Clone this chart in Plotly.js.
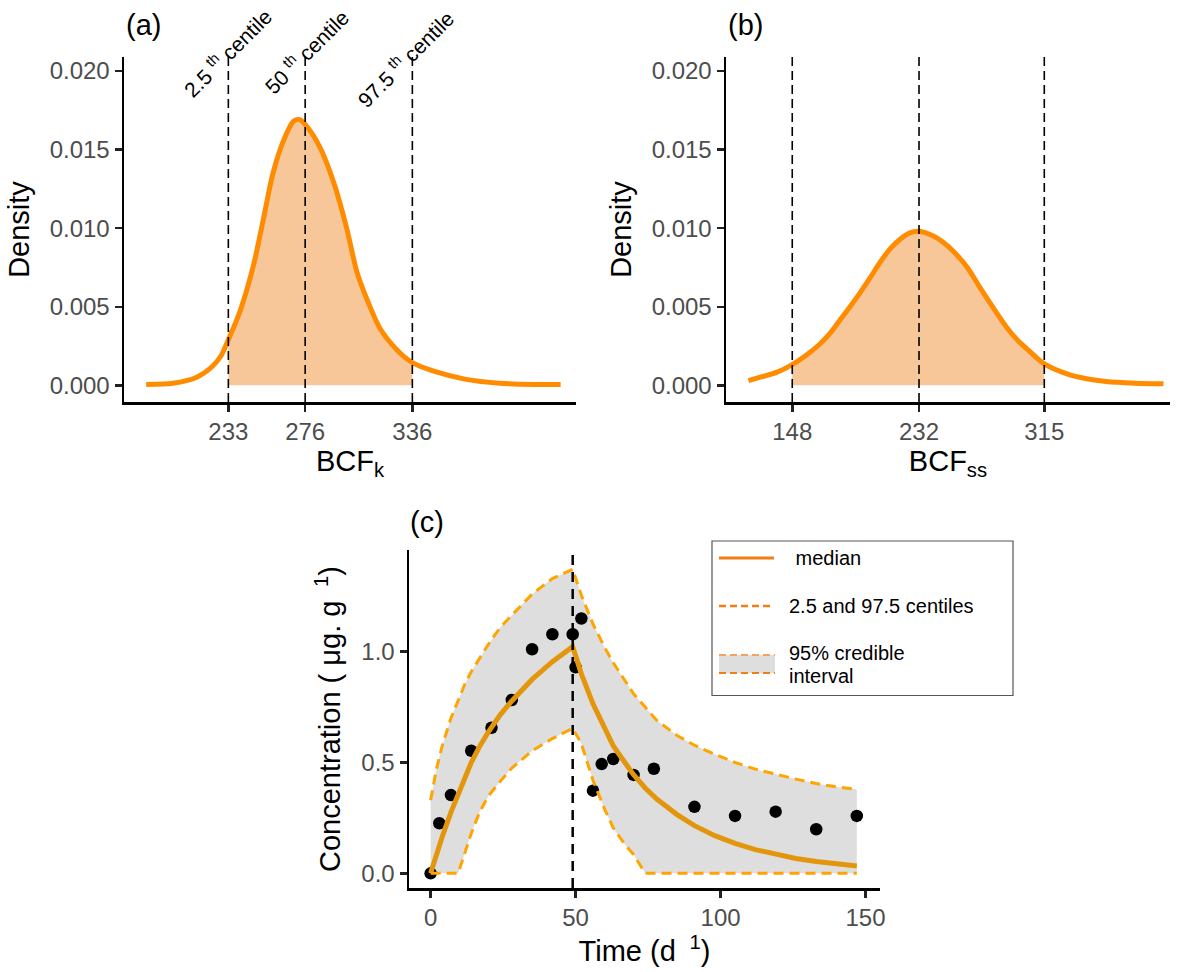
<!DOCTYPE html>
<html>
<head>
<meta charset="utf-8">
<script src="https://cdn.plot.ly/plotly-3.0.1.min.js"></script>
<style>html,body{margin:0;padding:0;background:#fff;}#chart{width:1179px;height:972px;}</style>
</head>
<body>
<div id="chart"></div>
<script>
// ---------- Panel (a): posterior density of BCFk ----------
const bcfkX = [187, 202, 215, 224, 229, 233, 239.5, 247, 252.5, 258, 264, 269.5, 273, 276, 284, 292, 299, 305, 310.5, 318, 327, 336, 348, 366, 385, 404, 419];
const bcfkY = [0.00005, 0.00013, 0.0005, 0.0012, 0.0019, 0.0029, 0.0047, 0.0076, 0.0105, 0.0135, 0.0156, 0.0168, 0.0169, 0.0166, 0.0152, 0.0129, 0.0101, 0.0072, 0.0055, 0.0036, 0.0023, 0.00144, 0.0009, 0.00038, 0.00013, 0.00005, 0.00005];
const centK = [233, 276, 336];
const centLabels = ['2.5', '50', '97.5'];

// ---------- Panel (b): posterior density of BCFss ----------
const bcfssX = [119, 128, 138, 148, 157, 166, 173, 180, 187, 193, 200, 206, 213, 219.5, 226, 232, 241.5, 248, 255, 264, 272.5, 283.5, 290, 297, 306, 315, 330, 343, 356, 375, 394];
const bcfssY = [0.0003, 0.00055, 0.00084, 0.00132, 0.0019, 0.0026, 0.0033, 0.0042, 0.0051, 0.0059, 0.0069, 0.0078, 0.0087, 0.0093, 0.0097, 0.0098, 0.0095, 0.0091, 0.0085, 0.0075, 0.0062, 0.0046, 0.0037, 0.0029, 0.0021, 0.00136, 0.00073, 0.00042, 0.00024, 0.00014, 0.0001];
const centSS = [148, 232, 315];

const densTicks = [0, 0.005, 0.010, 0.015, 0.020];

// ---------- Panel (c): toxicokinetic fit ----------
const obsTime = [0, 3, 7, 14, 21, 28, 35, 42, 49, 50, 52, 56, 59, 63, 70, 77, 91, 105, 119, 133, 147];
const obsConc = [0, 0.226, 0.353, 0.553, 0.657, 0.782, 1.011, 1.079, 1.079, 0.93, 1.15, 0.373, 0.493, 0.516, 0.444, 0.472, 0.30, 0.259, 0.278, 0.199, 0.259];

const predTime   = [0, 2, 4, 7, 9.5, 12, 14, 17, 20, 24, 28, 35, 42, 49, 52, 56, 60, 63, 67, 70, 74, 78, 85, 91, 98, 105, 112, 119, 126, 133, 140, 147];
const predMedian = [0, 0.085, 0.165, 0.275, 0.36, 0.44, 0.50, 0.575, 0.64, 0.715, 0.778, 0.875, 0.955, 1.023, 0.90, 0.765, 0.65, 0.575, 0.50, 0.445, 0.385, 0.335, 0.265, 0.215, 0.17, 0.135, 0.107, 0.085, 0.067, 0.053, 0.042, 0.033];
const predUpper  = [0.33, 0.47, 0.575, 0.70, 0.78, 0.86, 0.91, 0.975, 1.035, 1.11, 1.165, 1.26, 1.33, 1.372, 1.255, 1.125, 1.02, 0.95, 0.87, 0.81, 0.75, 0.69, 0.622, 0.578, 0.537, 0.50, 0.47, 0.447, 0.425, 0.405, 0.39, 0.379];
const predLower  = [0, 0, 0, 0, 0, 0.10, 0.18, 0.28, 0.35, 0.415, 0.475, 0.553, 0.608, 0.654, 0.585, 0.42, 0.29, 0.205, 0.13, 0.085, 0, 0, 0, 0, 0, 0, 0, 0, 0, 0, 0, 0];
const switchTime = [49];
const concTicks = [0, 0.5, 1.0];
const timeTicks = [0, 50, 100, 150];

// ---------- styles ----------
const FONT = 'Liberation Sans, Arial, Helvetica, sans-serif';
const DENS_LINE = '#FF8C00';
const DENS_FILL = '#F8C799';
const MED_COL = '#E3960C';
const CI_COL = '#FFA500';
const BAND_COL = '#DEDEDE';

function between(xs, ys, lo, hi) {
  const ox = [], oy = [];
  xs.forEach((v, i) => { if (v >= lo && v <= hi) { ox.push(v); oy.push(ys[i]); } });
  return {x: ox, y: oy};
}
const fillK = between(bcfkX, bcfkY, centK[0], centK[2]);
const fillSS = between(bcfssX, bcfssY, centSS[0], centSS[2]);

const traces = [
  {x: fillK.x, y: fillK.y, xaxis: 'x', yaxis: 'y', type: 'scatter', mode: 'lines', fill: 'tozeroy',
   fillcolor: DENS_FILL, line: {width: 0, shape: 'spline', smoothing: 0.8}, hoverinfo: 'skip', showlegend: false},
  {x: bcfkX, y: bcfkY, xaxis: 'x', yaxis: 'y', type: 'scatter', mode: 'lines',
   line: {color: DENS_LINE, width: 5, shape: 'spline', smoothing: 0.8}, showlegend: false},
  {x: fillSS.x, y: fillSS.y, xaxis: 'x2', yaxis: 'y2', type: 'scatter', mode: 'lines', fill: 'tozeroy',
   fillcolor: DENS_FILL, line: {width: 0, shape: 'spline', smoothing: 0.8}, hoverinfo: 'skip', showlegend: false},
  {x: bcfssX, y: bcfssY, xaxis: 'x2', yaxis: 'y2', type: 'scatter', mode: 'lines',
   line: {color: DENS_LINE, width: 5, shape: 'spline', smoothing: 0.8}, showlegend: false},
  // credible band polygon
  {x: predTime.concat(predTime.slice().reverse()), y: predUpper.concat(predLower.slice().reverse()),
   xaxis: 'x3', yaxis: 'y3', type: 'scatter', mode: 'lines', fill: 'toself', fillcolor: BAND_COL,
   line: {width: 0}, hoverinfo: 'skip', showlegend: false},
  {x: obsTime, y: obsConc, xaxis: 'x3', yaxis: 'y3', type: 'scatter', mode: 'markers',
   marker: {color: '#000', size: 12.5}, showlegend: false},
  {x: predTime, y: predMedian, xaxis: 'x3', yaxis: 'y3', type: 'scatter', mode: 'lines',
   line: {color: MED_COL, width: 5}, showlegend: false},
  {x: predTime, y: predLower, xaxis: 'x3', yaxis: 'y3', type: 'scatter', mode: 'lines',
   line: {color: CI_COL, width: 3, dash: '10px,6px'}, showlegend: false},
  {x: predTime, y: predUpper, xaxis: 'x3', yaxis: 'y3', type: 'scatter', mode: 'lines',
   line: {color: CI_COL, width: 3, dash: '10px,6px'}, showlegend: false}
];

const W = 1179, H = 972;
const px = v => v / W;
const py = v => 1 - v / H;

const axisBase = {
  showline: true, linecolor: '#000', linewidth: 2.5, mirror: false,
  ticks: 'outside', ticklen: 7, tickwidth: 2.5, tickcolor: '#222',
  showgrid: false, zeroline: false, fixedrange: true,
  tickfont: {family: FONT, size: 24, color: '#4D4D4D'}
};
function ax(extra) { return Object.assign({}, axisBase, extra); }

const layout = {
  width: W, height: H,
  margin: {l: 0, r: 0, t: 0, b: 0},
  paper_bgcolor: '#fff', plot_bgcolor: 'rgba(0,0,0,0)',
  font: {family: FONT, color: '#000'},
  showlegend: false,
  xaxis: ax({domain: [px(124), px(576)], range: [174.6, 427.6], anchor: 'y',
    tickmode: 'array', tickvals: centK, ticktext: centK.map(String),
    title: {text: 'BCF<sub>k</sub>', font: {size: 29, color: '#000'}, standoff: 4}}),
  yaxis: ax({domain: [py(402), py(57)], range: [-0.00106, 0.02089], anchor: 'x',
    tickmode: 'array', tickvals: densTicks, ticktext: densTicks.map(v => v.toFixed(3)),
    title: {text: 'Density', font: {size: 29, color: '#000'}, standoff: 12}}),
  xaxis2: ax({domain: [px(726), px(1170)], range: [104.1, 398.3], anchor: 'y2',
    tickmode: 'array', tickvals: centSS, ticktext: centSS.map(String),
    title: {text: 'BCF<sub>ss</sub>', font: {size: 29, color: '#000'}, standoff: 4}}),
  yaxis2: ax({domain: [py(402), py(57)], range: [-0.00106, 0.02089], anchor: 'x2',
    tickmode: 'array', tickvals: densTicks, ticktext: densTicks.map(v => v.toFixed(3)),
    title: {text: 'Density', font: {size: 29, color: '#000'}, standoff: 12}}),
  xaxis3: ax({domain: [px(409), px(880)], range: [-7.46, 155.0], anchor: 'y3',
    tickmode: 'array', tickvals: timeTicks, ticktext: timeTicks.map(String),
    title: {text: 'Time (d\u00A0<sup>\u00A01</sup>)', font: {size: 29, color: '#000'}, standoff: 6}}),
  yaxis3: ax({domain: [py(888), py(550)], range: [-0.0663, 1.459], anchor: 'x3',
    tickmode: 'array', tickvals: concTicks, ticktext: concTicks.map(v => v.toFixed(1)),
    title: {text: 'Concentration ( \u03BCg. g\u00A0<sup>\u00A01</sup>)', font: {size: 29, color: '#000'}, standoff: 12}}),
  shapes: [],
  annotations: []
};

centK.forEach(v => layout.shapes.push({type: 'line', xref: 'x', yref: 'y domain', x0: v, x1: v, y0: 0, y1: 1,
  layer: 'above', line: {color: '#000', width: 1.6, dash: '9px,5px'}}));
centSS.forEach(v => layout.shapes.push({type: 'line', xref: 'x2', yref: 'y2 domain', x0: v, x1: v, y0: 0, y1: 1,
  layer: 'above', line: {color: '#000', width: 1.6, dash: '9px,5px'}}));
switchTime.forEach(v => layout.shapes.push({type: 'line', xref: 'x3', yref: 'y3 domain', x0: v, x1: v, y0: 0, y1: 1,
  layer: 'above', line: {color: '#000', width: 2.5, dash: '10px,7px'}}));

// centile labels (rotated)
const cShift = [[-1, 5], [1, 6], [-7, -1]];
centK.forEach((v, i) => layout.annotations.push({
  xref: 'x', yref: 'y domain', x: v, y: 1, xanchor: 'center', yanchor: 'middle',
  xshift: cShift[i][0], yshift: cShift[i][1], textangle: -45, showarrow: false,
  text: centLabels[i] + ' <sup>th</sup> centile', font: {size: 21, color: '#000'}
}));

// panel labels
[['(a)', 143, 25], ['(b)', 745, 25], ['(c)', 427, 522]].forEach(p => layout.annotations.push({
  xref: 'paper', yref: 'paper', x: px(p[1]), y: py(p[2]), xanchor: 'center', yanchor: 'middle',
  showarrow: false, text: p[0], font: {size: 29, color: '#000'}
}));

// legend box for panel (c)
const LEG_COL = '#F07F16';
const LEG_COL2 = '#F4A25C';
layout.shapes.push({type: 'rect', xref: 'paper', yref: 'paper', x0: px(712), x1: px(1013), y0: py(695.5), y1: py(541),
  line: {color: '#555', width: 1.2}, fillcolor: '#fff', layer: 'above'});
layout.shapes.push({type: 'line', xref: 'paper', yref: 'paper', x0: px(719), x1: px(774), y0: py(558), y1: py(558),
  line: {color: LEG_COL, width: 3}, layer: 'above'});
layout.shapes.push({type: 'line', xref: 'paper', yref: 'paper', x0: px(719), x1: px(774), y0: py(606), y1: py(606),
  line: {color: LEG_COL, width: 2.5, dash: '7px,4px'}, layer: 'above'});
layout.shapes.push({type: 'rect', xref: 'paper', yref: 'paper', x0: px(719), x1: px(775), y0: py(673), y1: py(655),
  line: {width: 0}, fillcolor: BAND_COL, layer: 'above'});
layout.shapes.push({type: 'line', xref: 'paper', yref: 'paper', x0: px(719), x1: px(775), y0: py(655), y1: py(655),
  line: {color: LEG_COL2, width: 1.8, dash: '7px,4px'}, layer: 'above'});
layout.shapes.push({type: 'line', xref: 'paper', yref: 'paper', x0: px(719), x1: px(775), y0: py(673), y1: py(673),
  line: {color: LEG_COL, width: 1.8, dash: '7px,4px'}, layer: 'above'});
[[' median', 788, 558], ['2.5 and 97.5 centiles', 787, 606], ['95% credible', 787, 652.5], ['interval', 787, 675.5]].forEach(t =>
  layout.annotations.push({xref: 'paper', yref: 'paper', x: px(t[1]), y: py(t[2]), xanchor: 'left', yanchor: 'middle',
    showarrow: false, text: t[0], font: {size: 20, color: '#000'}}));

Plotly.newPlot('chart', traces, layout, {displayModeBar: false, staticPlot: true});
</script>
</body>
</html>
